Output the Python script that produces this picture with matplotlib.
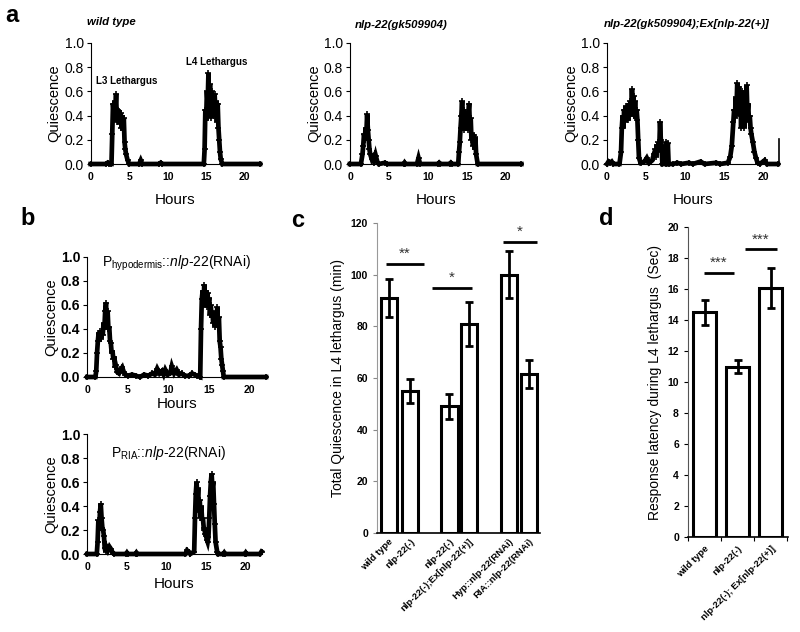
import numpy as np
import matplotlib
matplotlib.use("Agg")
import matplotlib.pyplot as plt

plt.rcParams['font.family'] = ['Liberation Sans', 'DejaVu Sans']
plt.rcParams['mathtext.fontset'] = 'custom'
plt.rcParams['mathtext.rm'] = 'Liberation Sans'
plt.rcParams['mathtext.it'] = 'Liberation Sans:italic'
plt.rcParams['mathtext.bf'] = 'Liberation Sans:bold'

# ---- panel a / b : quiescence traces, (hour, fraction) ----
wild_type_trace = [
    (0, 0), (2.0, 0), (2.2, 0.01), (2.4, 0), (2.7, 0), (2.8, 0.25), (2.9, 0.5), (3.0, 0.42),
    (3.1, 0.52), (3.2, 0.45), (3.3, 0.58), (3.4, 0.35), (3.5, 0.45), (3.6, 0.36), (3.7, 0.44),
    (3.8, 0.33), (3.9, 0.42), (4.0, 0.3), (4.1, 0.4), (4.2, 0.28), (4.3, 0.38), (4.4, 0.18),
    (4.5, 0.12), (4.6, 0.08), (4.8, 0.03), (5.0, 0), (6.3, 0), (6.5, 0.03), (6.7, 0), (8.9, 0),
    (9.1, 0.01), (9.3, 0), (14.7, 0), (14.8, 0.12), (14.9, 0.45), (15.0, 0.36), (15.1, 0.6),
    (15.2, 0.5), (15.3, 0.75), (15.4, 0.45), (15.5, 0.66), (15.6, 0.38), (15.7, 0.6), (15.8, 0.42),
    (15.9, 0.56), (16.0, 0.4), (16.1, 0.58), (16.2, 0.45), (16.3, 0.52), (16.4, 0.35), (16.5, 0.5),
    (16.6, 0.3), (16.7, 0.2), (16.8, 0.1), (16.9, 0.04), (17.1, 0), (22, 0),
]

mutant_trace = [
    (0, 0), (1.4, 0), (1.6, 0.08), (1.7, 0.15), (1.8, 0.25), (1.9, 0.2), (2.0, 0.3), (2.1, 0.25),
    (2.2, 0.41), (2.3, 0.28), (2.4, 0.2), (2.5, 0.12), (2.6, 0.08), (2.8, 0.04), (3.0, 0.06),
    (3.1, 0.01), (3.3, 0.07), (3.5, 0.02), (3.7, 0), (4.5, 0.01), (4.8, 0), (6.9, 0), (7.0, 0.01),
    (7.1, 0), (8.6, 0), (8.8, 0.05), (9.0, 0), (11.3, 0), (11.45, 0.01), (11.6, 0), (12.8, 0),
    (12.95, 0.01), (13.1, 0), (13.9, 0), (14.0, 0.1), (14.1, 0.18), (14.2, 0.3), (14.3, 0.4),
    (14.4, 0.52), (14.5, 0.3), (14.6, 0.45), (14.7, 0.28), (14.8, 0.42), (14.9, 0.3), (15.0, 0.35),
    (15.1, 0.28), (15.2, 0.42), (15.3, 0.5), (15.4, 0.3), (15.5, 0.38), (15.6, 0.2), (15.7, 0.25),
    (15.8, 0.15), (15.9, 0.24), (16.0, 0.12), (16.1, 0.22), (16.2, 0.08), (16.4, 0), (22, 0),
]

rescue_trace = [
    (0, 0), (0.2, 0.02), (0.4, 0.01), (0.6, 0.02), (0.8, 0), (1.6, 0), (1.8, 0.1), (1.9, 0.3),
    (2.0, 0.4), (2.1, 0.3), (2.2, 0.45), (2.3, 0.35), (2.4, 0.48), (2.5, 0.38), (2.6, 0.46),
    (2.7, 0.36), (2.8, 0.5), (2.9, 0.4), (3.0, 0.52), (3.1, 0.42), (3.2, 0.62), (3.3, 0.45),
    (3.4, 0.56), (3.5, 0.4), (3.6, 0.52), (3.7, 0.38), (3.8, 0.45), (3.9, 0.36), (4.0, 0.2),
    (4.1, 0.05), (4.3, 0.01), (4.8, 0.02), (5.1, 0.05), (5.4, 0.01), (5.8, 0.03), (6.0, 0.08),
    (6.2, 0.12), (6.3, 0.06), (6.4, 0.16), (6.5, 0.1), (6.6, 0.18), (6.7, 0.12), (6.8, 0.35),
    (6.9, 0.2), (7.0, 0.15), (7.1, 0), (7.5, 0), (7.6, 0.18), (7.7, 0.1), (7.8, 0.17), (7.9, 0),
    (8.5, 0), (9.0, 0.01), (9.5, 0), (10.5, 0.01), (11.0, 0), (12.0, 0.02), (12.5, 0), (14.0, 0.01),
    (14.5, 0), (15.5, 0.01), (15.8, 0.06), (16.0, 0.15), (16.2, 0.35), (16.3, 0.45), (16.4, 0.38),
    (16.5, 0.55), (16.6, 0.45), (16.7, 0.67), (16.8, 0.5), (16.9, 0.64), (17.0, 0.4), (17.1, 0.58),
    (17.2, 0.3), (17.3, 0.6), (17.4, 0.35), (17.5, 0.55), (17.6, 0.3), (17.7, 0.6), (17.8, 0.4),
    (17.9, 0.65), (18.0, 0.42), (18.1, 0.5), (18.2, 0.35), (18.3, 0.4), (18.4, 0.3), (18.5, 0.25),
    (18.7, 0.18), (18.9, 0.1), (19.1, 0.05), (19.3, 0.01), (19.6, 0), (20.2, 0.03), (20.5, 0),
    (21.9, 0),
]
rescue_last_point = (22, 0.21)

hypodermis_trace = [
    (0, 0), (1.0, 0), (1.1, 0.05), (1.2, 0.2), (1.3, 0.3), (1.4, 0.37), (1.5, 0.3), (1.6, 0.38),
    (1.7, 0.32), (1.8, 0.38), (1.9, 0.35), (2.0, 0.45), (2.1, 0.4), (2.2, 0.55), (2.3, 0.62),
    (2.4, 0.45), (2.5, 0.55), (2.6, 0.4), (2.7, 0.42), (2.8, 0.3), (2.9, 0.28), (3.0, 0.2),
    (3.1, 0.22), (3.2, 0.15), (3.3, 0.17), (3.4, 0.08), (3.5, 0.1), (3.7, 0.04), (3.9, 0.03),
    (4.1, 0.06), (4.3, 0.08), (4.5, 0.04), (4.7, 0.02), (5.0, 0.01), (5.5, 0.02), (6.0, 0.01),
    (6.5, 0), (7.0, 0.02), (7.5, 0.01), (8.0, 0.03), (8.3, 0.02), (8.6, 0.07), (8.9, 0.03),
    (9.2, 0.05), (9.4, 0.02), (9.6, 0.06), (9.9, 0.02), (10.2, 0.03), (10.4, 0.09), (10.7, 0.03),
    (11.0, 0.06), (11.3, 0.02), (11.6, 0.03), (12.0, 0.01), (12.5, 0.01), (12.9, 0.03),
    (13.2, 0.02), (13.5, 0.01), (13.9, 0), (14.0, 0.4), (14.1, 0.65), (14.2, 0.72), (14.3, 0.6),
    (14.4, 0.77), (14.5, 0.62), (14.6, 0.72), (14.7, 0.58), (14.8, 0.7), (14.9, 0.6), (15.0, 0.66),
    (15.1, 0.52), (15.2, 0.6), (15.3, 0.5), (15.4, 0.55), (15.5, 0.45), (15.6, 0.5), (15.7, 0.42),
    (15.8, 0.5), (15.9, 0.45), (16.0, 0.58), (16.1, 0.42), (16.2, 0.5), (16.3, 0.3), (16.4, 0.25),
    (16.5, 0.15), (16.6, 0.1), (16.7, 0.05), (16.8, 0), (22, 0),
]

ria_trace = [
    (0, 0), (1.2, 0), (1.3, 0.1), (1.4, 0.28), (1.5, 0.2), (1.6, 0.35), (1.7, 0.42), (1.8, 0.3),
    (1.9, 0.22), (2.0, 0.2), (2.1, 0.15), (2.2, 0.05), (2.3, 0.02), (2.4, 0.06), (2.6, 0.03),
    (2.8, 0.06), (3.0, 0.04), (3.2, 0.01), (3.4, 0), (4.9, 0), (5.0, 0.01), (5.1, 0), (6.1, 0),
    (6.2, 0.01), (6.3, 0), (12.4, 0), (12.6, 0.03), (12.8, 0.02), (13.0, 0), (13.5, 0.02),
    (13.6, 0.3), (13.7, 0.5), (13.8, 0.6), (13.9, 0.45), (14.0, 0.55), (14.1, 0.35), (14.2, 0.45),
    (14.3, 0.3), (14.4, 0.4), (14.5, 0.28), (14.6, 0.3), (14.7, 0.22), (14.8, 0.2), (14.9, 0.17),
    (15.0, 0.15), (15.1, 0.12), (15.2, 0.1), (15.3, 0.14), (15.4, 0.3), (15.5, 0.48), (15.6, 0.6),
    (15.7, 0.67), (15.8, 0.55), (15.9, 0.6), (16.0, 0.42), (16.1, 0.25), (16.2, 0.1), (16.4, 0.02),
    (16.5, 0), (17.2, 0), (17.3, 0.01), (17.4, 0), (19.9, 0), (20.0, 0.01), (20.1, 0), (21.8, 0),
    (22, 0.02),
]

# ---- panel c : total quiescence in L4 lethargus (min) ----
c_labels = ["wild type", "nlp-22(-)", "nlp-22(-)", "nlp-22(-);Ex[nlp-22(+)]",
            "Hyp::nlp-22(RNAi)", "RIA::nlp-22(RNAi)"]
c_values = [91, 55, 49, 81, 100, 61.5]
c_errors = [7.5, 4.5, 5, 8.5, 9, 5.3]
c_pos = [0, 1, 2.8, 3.7, 5.55, 6.45]

# ---- panel d : response latency (sec) ----
d_labels = ["wild type", "nlp-22(-)", "nlp-22(-); Ex[nlp-22(+)]"]
d_values = [14.5, 11.0, 16.05]
d_errors = [0.8, 0.4, 1.3]

W, H = 800, 632
fig = plt.figure(figsize=(8, 6.32), dpi=100)


def px_axes(left, top, right, bottom):
    return fig.add_axes([left / W, 1 - bottom / H, (right - left) / W, (bottom - top) / H])


def fig_text(x, y, s, **kw):
    fig.text(x / W, 1 - y / H, s, **kw)


def draw_trace(ax, trace, ytick_bold=False):
    hrs = [p[0] for p in trace]
    q = [p[1] for p in trace]
    ax.plot(hrs, q, color='black', lw=3.4, solid_joinstyle='miter', clip_on=False, zorder=3)
    ax.plot(hrs, q, color='black', lw=0, marker='+', ms=4, mew=1.2, clip_on=False, zorder=3)
    ax.set_xlim(0, 22)
    ax.set_ylim(0, 1.0)
    ax.set_yticks(np.arange(0, 1.01, 0.2))
    ax.set_yticklabels([f"{v:.1f}" for v in np.arange(0, 1.01, 0.2)],
                       fontsize=10, fontweight='bold' if ytick_bold else 'normal')
    ax.set_xticks([0, 5, 10, 15, 20])
    ax.set_xticklabels(["0", "5", "10", "15", "20"], fontsize=7.5, fontweight='bold')
    ax.spines['top'].set_visible(False)
    ax.spines['right'].set_visible(False)
    ax.spines['left'].set_linewidth(0.8)
    ax.spines['bottom'].set_linewidth(0.8)
    ax.tick_params(axis='y', direction='out', length=3, width=0.8, pad=2)
    ax.tick_params(axis='x', direction='out', length=0, pad=6)
    ax.set_ylabel("Quiescence", fontsize=10.5, labelpad=2)


# ---- panel a ----
ax_a1 = px_axes(90.7, 43, 260, 164)
draw_trace(ax_a1, wild_type_trace)
ax_a1.set_xlabel("Hours", fontsize=11, labelpad=8)
ax_a1.text(4.7, 0.69, "L3 Lethargus", fontsize=7, fontweight='bold', ha='center', va='center')
ax_a1.text(16.4, 0.84, "L4 Lethargus", fontsize=7, fontweight='bold', ha='center', va='center')

ax_a2 = px_axes(350, 43, 521.3, 164)
draw_trace(ax_a2, mutant_trace)
ax_a2.set_xlabel("Hours", fontsize=11, labelpad=8)

ax_a3 = px_axes(607, 43, 778.6, 164)
draw_trace(ax_a3, rescue_trace)
ax_a3.plot([21.9, rescue_last_point[0], rescue_last_point[0]], [0, 0, rescue_last_point[1]],
           color='black', lw=1.2, clip_on=False, zorder=3)
ax_a3.set_xlabel("Hours", fontsize=11, labelpad=8)

fig_text(111, 22, "wild type", fontsize=8.2, style='italic', fontweight='bold', ha='center', va='center')
fig_text(401, 25, "nlp-22(gk509904)", fontsize=8.2, style='italic', fontweight='bold', ha='center', va='center')
fig_text(687, 24, "nlp-22(gk509904);Ex[nlp-22(+)]", fontsize=8.2, style='italic',
         fontweight='bold', ha='center', va='center')

# ---- panel b ----
ax_b1 = px_axes(87.3, 257, 266, 377)
draw_trace(ax_b1, hypodermis_trace, ytick_bold=True)
ax_b1.set_xlabel("Hours", fontsize=11, labelpad=1)
ax_b1.text(11, 0.95, r"P$_{\mathrm{hypodermis}}$::$\mathit{nlp}$-$\mathit{22}$(RNAi)",
           fontsize=10, ha='center', va='center')

ax_b2 = px_axes(87.3, 434, 261.5, 554)
draw_trace(ax_b2, ria_trace, ytick_bold=True)
ax_b2.set_xlabel("Hours", fontsize=11, labelpad=3)
ax_b2.text(10.2, 0.84, r"P$_{\mathrm{RIA}}$::$\mathit{nlp}$-$\mathit{22}$(RNAi)",
           fontsize=10, ha='center', va='center')

# ---- panel c ----
ax_c = px_axes(377, 223, 540, 533)
ax_c.bar(c_pos, c_values, width=0.74, color='white', edgecolor='black', linewidth=2.2, zorder=2)
ax_c.errorbar(c_pos, c_values, yerr=c_errors, fmt='none', ecolor='black', elinewidth=2,
              capsize=3, capthick=2, zorder=3)
ax_c.set_xlim(-0.54, 6.97)
ax_c.set_ylim(0, 120)
ax_c.set_yticks(range(0, 121, 20))
ax_c.set_yticklabels([str(v) for v in range(0, 121, 20)], fontsize=7.5, fontweight='bold')
ax_c.set_xticks(c_pos)
ax_c.set_xticklabels(c_labels, rotation=45, ha='right', rotation_mode='anchor',
                     fontsize=6.8, fontweight='bold')
ax_c.tick_params(axis='x', length=0, pad=3)
ax_c.tick_params(axis='y', direction='out', length=3, width=0.8, color='#888888')
ax_c.spines['top'].set_visible(False)
ax_c.spines['right'].set_visible(False)
ax_c.spines['left'].set_color('#999999')
ax_c.spines['bottom'].set_linewidth(1.2)
ax_c.set_ylabel("Total Quiescence in L4 lethargus (min)", fontsize=10, labelpad=4)
for x0, x1, y, s in [(-0.14, 1.63, 104, "**"), (1.98, 3.84, 94.8, "*"), (5.27, 6.84, 112.6, "*")]:
    ax_c.plot([x0, x1], [y, y], color='black', lw=2, solid_capstyle='butt', clip_on=False)
    ax_c.text((x0 + x1) / 2, y + 1.2, s, fontsize=11, ha='center', va='bottom', color='#333333')

# ---- panel d ----
ax_d = px_axes(688, 227, 788, 537)
d_pos = np.arange(len(d_values))
ax_d.bar(d_pos, d_values, width=0.69, color='white', edgecolor='black', linewidth=2.2, zorder=2)
ax_d.errorbar(d_pos, d_values, yerr=d_errors, fmt='none', ecolor='black', elinewidth=2,
              capsize=3, capthick=2, zorder=3)
ax_d.set_xlim(-0.5, 2.52)
ax_d.set_ylim(0, 20)
ax_d.set_yticks(range(0, 21, 2))
ax_d.set_yticklabels([str(v) for v in range(0, 21, 2)], fontsize=7.5, fontweight='bold')
ax_d.set_xticks(d_pos)
ax_d.set_xticklabels(d_labels, rotation=45, ha='right', rotation_mode='anchor',
                     fontsize=6.8, fontweight='bold')
ax_d.set_xticks([-0.5, 0.5, 1.5, 2.5], minor=True)
ax_d.tick_params(axis='x', which='major', length=0, pad=5)
ax_d.tick_params(axis='x', which='minor', direction='out', length=3, width=0.8)
ax_d.tick_params(axis='y', direction='out', length=3, width=0.8)
ax_d.spines['top'].set_visible(False)
ax_d.spines['right'].set_visible(False)
ax_d.spines['left'].set_color('#555555')
ax_d.spines['bottom'].set_linewidth(1.2)
ax_d.set_ylabel("Response latency during L4 lethargus  (Sec)", fontsize=10, labelpad=4)
for x0, x1, y in [(-0.03, 0.9, 17.05), (1.22, 2.18, 18.55)]:
    ax_d.plot([x0, x1], [y, y], color='black', lw=2, solid_capstyle='butt', clip_on=False)
    ax_d.text((x0 + x1) / 2, y + 0.2, "***", fontsize=11, ha='center', va='bottom', color='#333333')

# ---- panel letters ----
for x, y, s in [(12, 15, "a"), (28, 218, "b"), (298, 220, "c"), (606, 218, "d")]:
    fig_text(x, y, s, fontsize=17, fontweight='bold', ha='center', va='center')

fig.savefig("out.png", dpi=100)
